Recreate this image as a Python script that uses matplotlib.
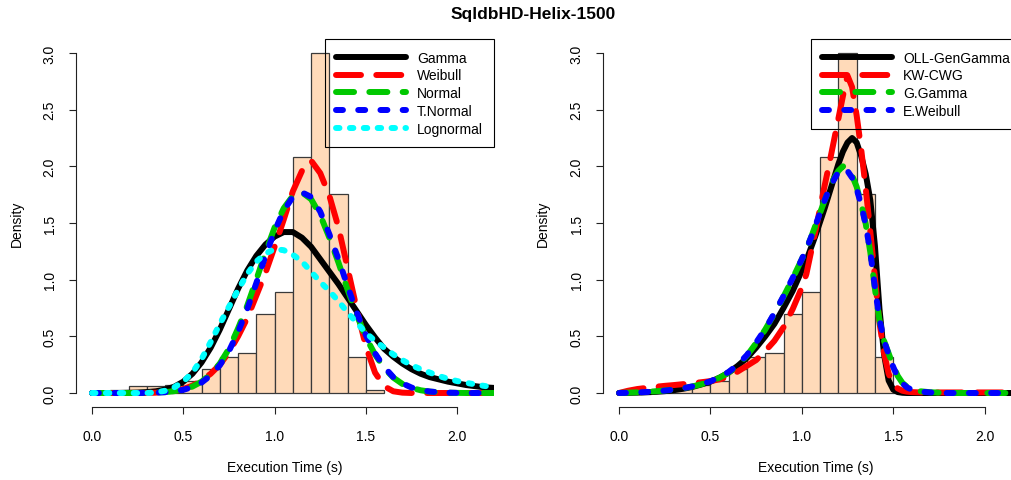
import numpy as np
import matplotlib
matplotlib.use("Agg")
import matplotlib.pyplot as plt

plt.rcParams['font.family'] = ['Liberation Sans', 'DejaVu Sans']
plt.rcParams['lines.scale_dashes'] = False

# histogram of execution times (density, bin width 0.1)
bin_left = [0.1, 0.2, 0.3, 0.4, 0.5, 0.6, 0.7, 0.8, 0.9, 1.0, 1.1, 1.2, 1.3, 1.4, 1.5]
bin_height = [0.03, 0.06, 0.06, 0.07, 0.11, 0.21, 0.32, 0.35, 0.70, 0.89, 2.08, 3.00, 1.76, 0.32, 0.03]

# left panel: classic fits, sampled every 0.05 from 0 to 2.2
x_left = np.round(np.arange(0.0, 2.2001, 0.05), 3)
gamma = [0, 0, 0, 0, 0.002, 0.004, 0.008, 0.015, 0.03, 0.055,
         0.10, 0.17, 0.27, 0.40, 0.56, 0.74, 0.92, 1.08, 1.21, 1.31,
         1.38, 1.42, 1.42, 1.37, 1.29, 1.18, 1.07, 0.96, 0.84, 0.72,
         0.60, 0.49, 0.39, 0.32, 0.26, 0.21, 0.17, 0.14, 0.12, 0.10,
         0.085, 0.07, 0.06, 0.05, 0.045]
weibull = [0, 0, 0, 0, 0, 0, 0, 0.003, 0.008, 0.018,
           0.035, 0.065, 0.11, 0.17, 0.25, 0.36, 0.50, 0.66, 0.86, 1.06,
           1.29, 1.53, 1.78, 1.96, 2.05, 1.94, 1.74, 1.46, 1.10, 0.74,
           0.41, 0.18, 0.06, 0.015, 0.003, 0, 0, 0, 0, 0,
           0, 0, 0, 0, 0]
normal = [0, 0, 0, 0, 0, 0, 0.002, 0.004, 0.008, 0.016,
          0.031, 0.057, 0.10, 0.165, 0.26, 0.39, 0.57, 0.77, 1.00, 1.24,
          1.46, 1.63, 1.74, 1.77, 1.71, 1.57, 1.37, 1.15, 0.91, 0.69,
          0.49, 0.34, 0.22, 0.136, 0.08, 0.045, 0.024, 0.012, 0.006, 0.003,
          0.001, 0, 0, 0, 0]
tnormal = [0, 0, 0, 0, 0, 0, 0.001, 0.003, 0.007, 0.014,
           0.028, 0.052, 0.092, 0.155, 0.245, 0.37, 0.54, 0.74, 0.97, 1.21,
           1.43, 1.61, 1.73, 1.77, 1.73, 1.60, 1.40, 1.18, 0.94, 0.71,
           0.51, 0.35, 0.23, 0.14, 0.085, 0.048, 0.026, 0.013, 0.006, 0.003,
           0.001, 0, 0, 0, 0]
lognormal = [0, 0, 0, 0, 0, 0, 0, 0.005, 0.02, 0.05,
             0.10, 0.18, 0.30, 0.45, 0.61, 0.76, 0.91, 1.05, 1.16, 1.23,
             1.27, 1.26, 1.22, 1.16, 1.07, 0.98, 0.90, 0.81, 0.71, 0.62,
             0.53, 0.46, 0.40, 0.34, 0.29, 0.245, 0.21, 0.18, 0.15, 0.125,
             0.105, 0.09, 0.075, 0.062, 0.052]

# right panel: generalized fits, finer sampling around the peak
x_right = np.round(np.concatenate([np.arange(0.0, 1.0001, 0.05),
                                   np.arange(1.025, 1.6001, 0.025),
                                   np.arange(1.65, 2.2501, 0.05)]), 3)
oll_gengamma = [0, 0.001, 0.003, 0.006, 0.01, 0.016, 0.025, 0.037, 0.053, 0.075,
                0.10, 0.135, 0.18, 0.24, 0.31, 0.40, 0.50, 0.61, 0.75, 0.90, 1.08,
                1.17, 1.28, 1.39, 1.51, 1.63, 1.76, 1.89, 2.02, 2.13, 2.21, 2.25, 2.21,
                2.09, 1.93, 1.70, 1.30, 0.74, 0.34, 0.11, 0.03, 0.008, 0.002, 0, 0,
                0, 0, 0, 0, 0, 0, 0, 0, 0, 0, 0, 0, 0]
kw_cwg = [0, 0.02, 0.035, 0.045, 0.055, 0.063, 0.07, 0.078, 0.086, 0.095,
          0.105, 0.12, 0.145, 0.19, 0.24, 0.29, 0.37, 0.46, 0.58, 0.74, 0.93,
          1.05, 1.24, 1.43, 1.63, 1.83, 2.02, 2.22, 2.42, 2.62, 2.80, 2.70, 2.45,
          2.15, 1.80, 1.42, 1.02, 0.62, 0.35, 0.17, 0.08, 0.04, 0.02, 0.012, 0.008,
          0.005, 0.005, 0.005, 0.005, 0.005, 0.005, 0.005, 0.005, 0.005, 0.005, 0.005, 0.005, 0.005]
g_gamma = [0, 0.003, 0.006, 0.01, 0.015, 0.022, 0.03, 0.042, 0.057, 0.077,
           0.10, 0.135, 0.18, 0.245, 0.33, 0.44, 0.56, 0.70, 0.85, 1.01, 1.18,
           1.27, 1.37, 1.48, 1.59, 1.70, 1.80, 1.89, 1.96, 2.00, 1.98, 1.92, 1.82,
           1.67, 1.49, 1.24, 0.92, 0.64, 0.46, 0.35, 0.24, 0.15, 0.09, 0.055, 0.035,
           0.015, 0.007, 0.003, 0, 0, 0, 0, 0, 0, 0, 0, 0, 0]
e_weibull = [0, 0.002, 0.005, 0.009, 0.014, 0.021, 0.03, 0.042, 0.058, 0.079,
             0.103, 0.14, 0.186, 0.25, 0.335, 0.445, 0.565, 0.705, 0.855, 1.015, 1.18,
             1.27, 1.37, 1.48, 1.59, 1.70, 1.80, 1.88, 1.95, 1.98, 1.96, 1.90, 1.80,
             1.66, 1.48, 1.24, 0.93, 0.65, 0.46, 0.34, 0.23, 0.14, 0.085, 0.05, 0.03,
             0.012, 0.005, 0.002, 0, 0, 0, 0, 0, 0, 0, 0, 0, 0]

left_fits = [("Gamma", gamma), ("Weibull", weibull), ("Normal", normal),
             ("T.Normal", tnormal), ("Lognormal", lognormal)]
right_fits = [("OLL-GenGamma", oll_gengamma), ("KW-CWG", kw_cwg),
              ("G.Gamma", g_gamma), ("E.Weibull", e_weibull)]

LW = 4.3
styles = [dict(color='black', linestyle='-'),
          dict(color='#FF0000', dashes=(18.0, 11.0)),
          dict(color='#00C800', dashes=(13.0, 11.0)),
          dict(color='#0000FF', dashes=(5.0, 11.0)),
          dict(color='#00FFFF', dashes=(2.5, 7.5))]

fig = plt.figure(figsize=(10.11, 4.81), dpi=100)
W, H = 1011.0, 481.0
bottom = (H - 407.6) / H
height = 367.2 / H
axL = fig.add_axes([76 / W, bottom, (494 - 76) / W, height])
axR = fig.add_axes([603 / W, bottom, (1030 - 603) / W, height])


def draw_panel(ax, xs, fits, xlim, leg_x):
    ax.bar(bin_left, bin_height, width=0.1, align='edge', color='#FFDAB9',
           edgecolor='#3a3a3a', linewidth=0.9, zorder=1)
    handles = []
    for (name, vals), st in zip(fits, styles):
        ln, = ax.plot(xs, vals, lw=LW, solid_capstyle='round',
                      dash_capstyle='round', solid_joinstyle='round',
                      label=name, zorder=2, **st)
        handles.append(ln)
    ax.set_xlim(*xlim)
    ax.set_ylim(-0.12, 3.12)
    for s in ['top', 'right']:
        ax.spines[s].set_visible(False)
    ax.spines['left'].set_bounds(0, 3)
    ax.spines['bottom'].set_bounds(0, 2)
    for s in ['left', 'bottom']:
        ax.spines[s].set_linewidth(0.8)
        ax.spines[s].set_color('#222222')
    ax.set_xticks([0.0, 0.5, 1.0, 1.5, 2.0])
    ax.set_xticklabels(['0.0', '0.5', '1.0', '1.5', '2.0'])
    ax.set_yticks([0.0, 0.5, 1.0, 1.5, 2.0, 2.5, 3.0])
    ax.set_yticklabels(['0.0', '0.5', '1.0', '1.5', '2.0', '2.5', '3.0'],
                       rotation=90, va='center')
    ax.tick_params(axis='both', length=5, width=0.8, color='#222222',
                   labelsize=10)
    ax.tick_params(axis='x', pad=11)
    ax.tick_params(axis='y', pad=9)
    leg = ax.legend(handles=handles, loc='upper right', bbox_to_anchor=(leg_x, 1),
                    borderaxespad=0, fontsize=10, handlelength=5.0,
                    handletextpad=0.8, borderpad=0.8, labelspacing=0.28,
                    fancybox=False, framealpha=1, facecolor='none',
                    edgecolor='black')
    leg.get_frame().set_linewidth(0.8)


draw_panel(axL, x_left, left_fits, ((76 - 92) / 182.6, (494 - 92) / 182.6), 1.0)
draw_panel(axR, x_right, right_fits, ((603 - 619) / 182.8, (1030 - 619) / 182.8),
           1.0 - 9 / 427)

fig.text(533 / W, 1 - 15 / H, "SqldbHD-Helix-1500", ha='center', va='center',
         fontsize=12.5, fontweight='bold')
for cx, cy in [(285, 468), (815.5, 468)]:
    fig.text(cx / W, 1 - cy / H, "Execution Time (s)", ha='center', va='center',
             fontsize=10)
for cx in [17, 543]:
    fig.text(cx / W, 1 - 224 / H, "Density", ha='center', va='center',
             rotation=90, fontsize=10)

fig.savefig("out.png", dpi=100)
